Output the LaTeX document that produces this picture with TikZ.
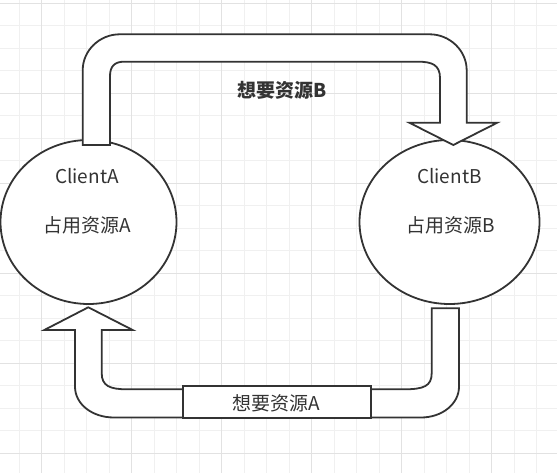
\documentclass[tikz,border=0pt]{standalone}
\usepackage{fontspec}
\setmainfont{Noto Sans CJK SC}
\usetikzlibrary{shapes.geometric}
\definecolor{ink}{HTML}{333333}
\definecolor{gridminor}{HTML}{F0F0F0}
\definecolor{gridmajor}{HTML}{E2E2E2}
\tikzset{
  client/.style={ellipse, draw=ink, line width=1.8pt, fill=white, inner sep=0pt, outer sep=0pt},
  flexarrow/.style={draw=ink, line width=1.8pt, fill=white, line join=miter},
  lbl/.style={text=ink, font=\fontsize{19}{22}\selectfont, inner sep=0pt},
  lblbox/.style={draw=ink, line width=1.8pt, fill=white, inner sep=0pt, minimum width=188pt, minimum height=32pt},
}
\begin{document}
\begin{tikzpicture}[x=1pt, y=-1pt]
\useasboundingbox (0,0) rectangle (557,473);
% grid
\foreach \k in {0,...,24} {
  \draw[gridminor, line width=0.8pt] ({19.2+22.5*\k},0) -- ({19.2+22.5*\k},473);
  \draw[gridminor, line width=0.8pt] (0,{3.3+22.5*\k}) -- (557,{3.3+22.5*\k});
}
\foreach \k in {0,...,5} {
  \draw[gridmajor, line width=1pt] ({41.7+90*\k},0) -- ({41.7+90*\k},473);
  \draw[gridmajor, line width=1pt] (0,{3.3+90*\k}) -- (557,{3.3+90*\k});
}
% clients
\node[client, minimum width=176pt, minimum height=164pt] (A) at (88.5,222) {};
\node[client, minimum width=180pt, minimum height=164pt] (B) at (449.5,222) {};
\node[lbl] (Aname) at (87,175.7) {ClientA};
\node[lbl] (Ares) at (87.5,225) {占用资源A};
\node[lbl] (Bname) at (449.5,175.7) {ClientB};
\node[lbl] (Bres) at (450.3,225) {占用资源B};
% top arrow: A -> B
\draw[flexarrow] (82.7,145) -- (82.7,70.3)
  .. controls (82.7,50.4) and (99.6,34.3) .. (119.7,34.3)
  -- (429.7,34.3)
  .. controls (449.6,34.3) and (466.7,50.4) .. (466.7,70.3)
  -- (466.7,122.7) -- (497.3,122.7) -- (453.3,145) -- (409.3,122.7) -- (440,122.7)
  -- (440,78) .. controls (440,65) and (432,61.7) .. (418,61.7)
  -- (124,61.7) .. controls (115,61.7) and (110,66) .. (110,76)
  -- (110,145) -- cycle;
% bottom arrow: B -> A
\draw[flexarrow] (431.7,308.3) -- (459,308.3) -- (459,386.7)
  .. controls (459,404) and (442,417.5) .. (421,417.5)
  -- (114,417.5)
  .. controls (92,417.5) and (75,404) .. (75,386.7)
  -- (75,330) -- (44.3,330) -- (88.3,307.3) -- (132.7,330) -- (101.7,330)
  -- (101.7,373) .. controls (101.7,386) and (110,389.3) .. (127,389.3)
  -- (404,389.3) .. controls (424,389.3) and (431.7,386) .. (431.7,373)
  -- cycle;
% labels
\node[lblbox] (boxA) at (276.9,402) {};
\node[lbl] (wantA) at (276.5,403.3) {想要资源A};
\node[lbl, font=\fontsize{19}{22}\selectfont\bfseries] (wantB) at (281.7,90) {想要资源B};
\end{tikzpicture}
\end{document}
